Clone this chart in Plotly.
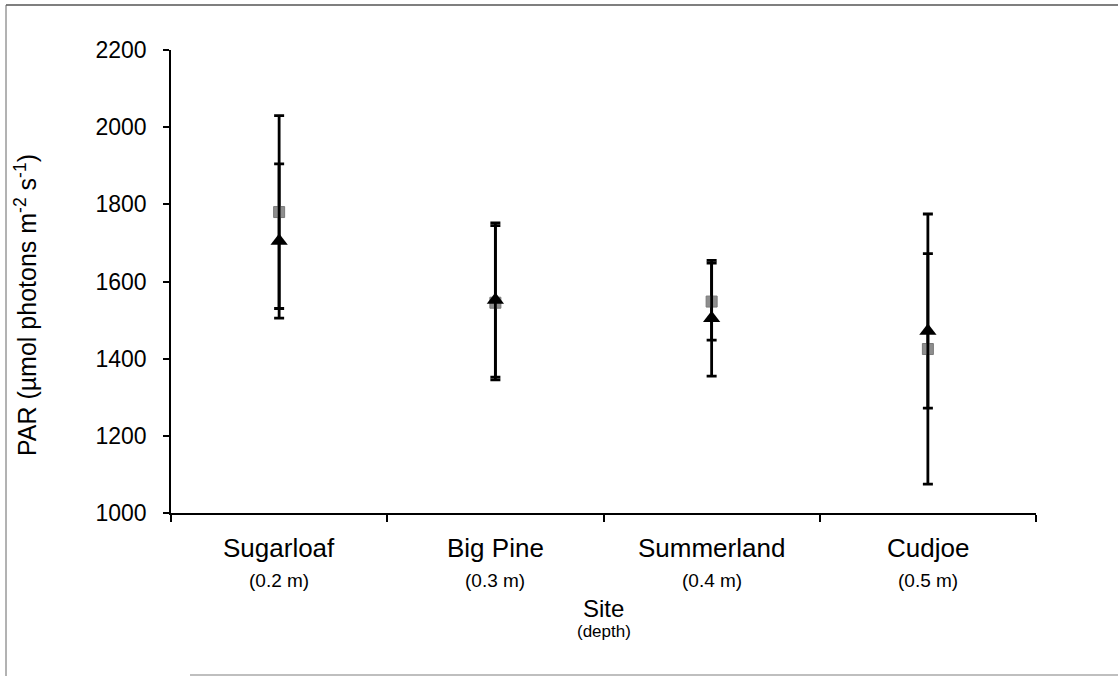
import plotly.graph_objects as go

# Sites along the x axis, with the water depth at each
sites = ["Sugarloaf", "Big Pine", "Summerland", "Cudjoe"]
depths = ["(0.2 m)", "(0.3 m)", "(0.4 m)", "(0.5 m)"]

# Mean PAR and error (+/-) for the two measurement series
square_mean = [1780, 1545, 1548, 1425]
square_err = [250, 200, 100, 350]
triangle_mean = [1705, 1552, 1505, 1472]
triangle_err = [200, 200, 150, 200]

y_ticks = [1000, 1200, 1400, 1600, 1800, 2000, 2200]

FONT = "Arial, Liberation Sans, sans-serif"

fig = go.Figure()

fig.add_trace(go.Scatter(
    x=sites, y=square_mean, mode="markers",
    marker=dict(symbol="square", size=11, color="#8e8e8e",
                line=dict(color="#7a7a7a", width=1)),
    error_y=dict(type="data", array=square_err, visible=True,
                 color="black", thickness=2.8, width=5),
    showlegend=False,
))

fig.add_trace(go.Scatter(
    x=sites, y=triangle_mean, mode="markers",
    marker=dict(symbol="triangle-up", size=15, color="black",
                line=dict(color="black", width=0)),
    error_y=dict(type="data", array=triangle_err, visible=True,
                 color="black", thickness=2.8, width=5),
    showlegend=False,
))

# Site names and depths beneath each category
annotations = []
for s, d in zip(sites, depths):
    annotations.append(dict(x=s, y=0, xref="x", yref="paper", text=s,
                            showarrow=False, yanchor="middle", yshift=-35,
                            font=dict(family=FONT, size=26, color="black")))
    annotations.append(dict(x=s, y=0, xref="x", yref="paper", text=d,
                            showarrow=False, yanchor="middle", yshift=-67,
                            font=dict(family=FONT, size=19, color="black")))

# Axis titles
annotations.append(dict(x=0.5, y=0, xref="paper", yref="paper", text="Site",
                        showarrow=False, yanchor="middle", yshift=-95,
                        font=dict(family=FONT, size=24, color="black")))
annotations.append(dict(x=0.5, y=0, xref="paper", yref="paper", text="(depth)",
                        showarrow=False, yanchor="middle", yshift=-118,
                        font=dict(family=FONT, size=17, color="black")))
annotations.append(dict(x=0, y=0.449, xref="paper", yref="paper",
                        text="PAR (µmol photons m<sup>-2</sup> s<sup>-1</sup>)",
                        showarrow=False, textangle=-90, xanchor="center",
                        yanchor="middle", xshift=-145,
                        font=dict(family=FONT, size=25, color="black")))

# Page frame
L, R, T, B = 171, 1036, 50, 513
def px(xp):
    return (xp - L) / (R - L)
def py(yp):
    return (B - yp) / (B - T)

shapes = [
    dict(type="line", xref="paper", yref="paper", x0=px(6), x1=px(1118),
         y0=py(5), y1=py(5), line=dict(color="#555555", width=1.5)),
    dict(type="line", xref="paper", yref="paper", x0=px(6), x1=px(6),
         y0=py(5), y1=py(676), line=dict(color="#666666", width=1)),
    dict(type="line", xref="paper", yref="paper", x0=px(190), x1=px(1118),
         y0=py(675), y1=py(675), line=dict(color="#aaaaaa", width=1.5)),
]

fig.update_layout(
    width=1118, height=676,
    margin=dict(l=L, r=1118 - R, t=T, b=676 - B),
    paper_bgcolor="white", plot_bgcolor="white",
    font=dict(family=FONT, color="black"),
    annotations=annotations,
    shapes=shapes,
)

fig.update_xaxes(
    type="category", categoryorder="array", categoryarray=sites,
    range=[-0.5, 3.5], showticklabels=False, tickson="boundaries",
    ticks="outside", ticklen=7, tickwidth=1.5, tickcolor="black",
    showline=True, linecolor="black", linewidth=1.5, showgrid=False,
    zeroline=False,
)

fig.update_yaxes(
    range=[1000, 2200], tickvals=y_ticks, ticks="outside", ticklen=6,
    tickwidth=1.5, tickcolor="black", showline=True, linecolor="black",
    linewidth=1.5, showgrid=False, zeroline=False,
    tickfont=dict(family=FONT, size=23, color="black"),
    ticklabelstandoff=12,
)

fig.write_html("out.html")
